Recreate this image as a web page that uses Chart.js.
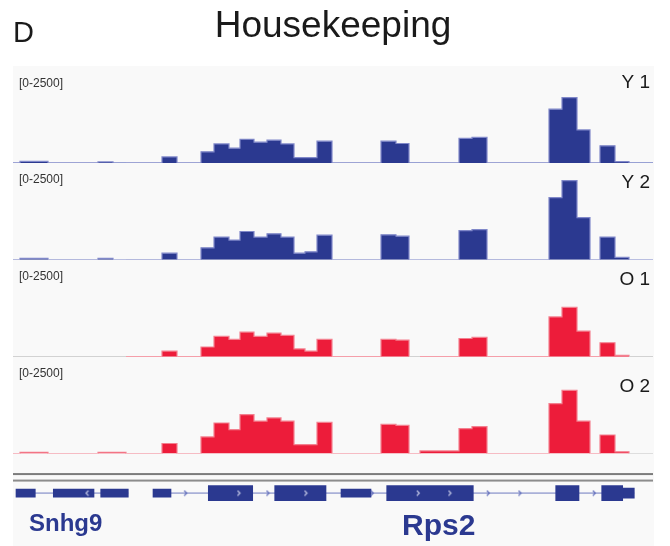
<!DOCTYPE html>
<html>
<head>
<meta charset="utf-8">
<script src="https://cdn.jsdelivr.net/npm/chart.js@4.4.1/dist/chart.umd.min.js"></script>
<style>
  html, body { margin: 0; padding: 0; background: #fff; }
  #wrap { width: 670px; height: 546px; }
</style>
</head>
<body>
<div id="wrap"><canvas id="myChart" width="670" height="546"></canvas></div>
<script>
// bin edges along the locus (relative position), one more than the bins
const binEdges = [0, 7, 35, 85, 100, 113, 149, 164, 188, 201, 216, 227, 241, 254, 268, 281, 292, 304,
                  319, 368, 383, 396, 407, 446, 459, 474, 536, 549, 564, 577, 587, 602, 616, 640];

// coverage per bin (scale 0-2500)
const y1Counts = [0, 40, 0, 25, 0, 0, 155, 0, 285, 490, 380, 610, 535, 585, 490, 135, 135, 560,
                  0, 560, 500, 0, 0, 635, 660, 0, 1385, 1685, 850, 0, 440, 35, 0];
const y2Counts = [0, 35, 0, 35, 0, 0, 170, 0, 310, 585, 510, 730, 585, 670, 585, 170, 205, 635,
                  0, 645, 610, 0, 0, 755, 780, 0, 1605, 2045, 1090, 0, 585, 60, 0];
const o1Counts = [0, 0, 0, 0, 0, 0, 145, 0, 250, 525, 445, 635, 525, 610, 550, 200, 145, 445,
                  0, 445, 430, 0, 0, 470, 500, 0, 1025, 1270, 660, 0, 360, 35, 0];
const o2Counts = [0, 35, 0, 35, 35, 0, 260, 0, 430, 790, 620, 1005, 840, 920, 840, 230, 230, 805,
                  0, 755, 730, 0, 70, 645, 695, 0, 1290, 1630, 840, 0, 480, 45, 0];

const trackNames = ['Y 1', 'Y 2', 'O 1', 'O 2'];
const rangeLabel = '[0-2500]';
const yMax = 2500;

// gene model
const geneNames = ['Snhg9', 'Rps2'];
const geneSpans = [[3, 115.3], [140, 621.3]];
const thinExons = [[3, 22.3], [40.3, 81], [87.7, 115.3], [140, 158], [328, 358]];
const thickExons = [[195.3, 239.7], [261.7, 313], [373.7, 460.3], [542.7, 566], [588.7, 609.7]];
const utrExons = [[609.7, 621.3]];
const intronArrows = [172.7, 255, 359.3, 475.3, 507, 581.3];
const exonArrows = [226, 293, 405.3, 437];
const minusArrows = [74];

const blue = '#2b3990';
const red = '#ed1c3a';
const font = "'Liberation Sans', Arial, Helvetica, sans-serif";
const geneRow = 0.82;

function histPoints(counts) {
  const pts = counts.map((v, i) => ({x: binEdges[i], y: v}));
  pts.push({x: binEdges[binEdges.length - 1], y: 0});
  return pts;
}

function chevron(color, flip) {
  const c = document.createElement('canvas');
  c.width = 5; c.height = 7;
  const g = c.getContext('2d');
  g.strokeStyle = color;
  g.lineWidth = 1.1;
  g.beginPath();
  if (flip) { g.moveTo(4, 1); g.lineTo(1.5, 3.5); g.lineTo(4, 6); }
  else { g.moveTo(1, 1); g.lineTo(3.5, 3.5); g.lineTo(1, 6); }
  g.stroke();
  return c;
}

const tracks = [
  {id: 'y1', counts: y1Counts, fill: blue, edge: '#8088c9', base: '#6f7bc4'},
  {id: 'y2', counts: y2Counts, fill: blue, edge: '#8088c9', base: '#8a92cf'},
  {id: 'o1', counts: o1Counts, fill: red, edge: '#f3808f', base: '#c4c4c4'},
  {id: 'o2', counts: o2Counts, fill: red, edge: '#f3808f', base: '#c4c4c4'}
];

const noPoint = {pointRadius: 0, pointHoverRadius: 0, pointBorderWidth: 0, pointHitRadius: 0};

const datasets = tracks.map(t => ({
  type: 'line',
  label: t.id,
  yAxisID: t.id,
  data: histPoints(t.counts),
  stepped: true,
  fill: 'origin',
  backgroundColor: t.fill,
  borderColor: t.edge,
  borderWidth: 1.2,
  ...noPoint,
  order: 4,
  segment: {
    borderColor: c => (c.p0.parsed.y === 0 && c.p1.parsed.y === 0 ? t.base : t.edge)
  }
}));

const intronLine = [];
geneSpans.forEach((s, i) => {
  if (i > 0) intronLine.push({x: (geneSpans[i - 1][1] + s[0]) / 2, y: null});
  intronLine.push({x: s[0], y: geneRow}, {x: s[1], y: geneRow});
});

const arrowOpts = {type: 'line', showLine: false, yAxisID: 'gene', ...noPoint,
                   pointRadius: 0.5, order: 1};

datasets.push(
  {type: 'line', yAxisID: 'gene', data: intronLine, borderColor: '#6f7bc0', borderWidth: 1,
   ...noPoint, spanGaps: false, order: 3},
  {type: 'bar', indexAxis: 'y', yAxisID: 'gene', grouped: false, barThickness: 8,
   backgroundColor: blue, data: thinExons.map(e => ({x: e, y: geneRow})), order: 2},
  {type: 'bar', indexAxis: 'y', yAxisID: 'gene', grouped: false, barThickness: 15,
   backgroundColor: blue, data: thickExons.map(e => ({x: e, y: geneRow})), order: 2},
  {type: 'bar', indexAxis: 'y', yAxisID: 'gene', grouped: false, barThickness: 10,
   backgroundColor: blue, data: utrExons.map(e => ({x: e, y: geneRow})), order: 2},
  {...arrowOpts, data: intronArrows.map(x => ({x, y: geneRow})), pointStyle: chevron('#5b68b9', false)},
  {...arrowOpts, data: exonArrows.map(x => ({x, y: geneRow})), pointStyle: chevron('#c9cde9', false)},
  {...arrowOpts, data: minusArrows.map(x => ({x, y: geneRow})), pointStyle: chevron('#c9cde9', true)}
);

function stackAxis(weight, stackWeight, max) {
  return {type: 'linear', axis: 'y', position: 'left', stack: 'igv', stackWeight, weight,
          min: 0, max, offset: false, display: false};
}

const decor = {
  id: 'decor',
  beforeDraw(chart) {
    const {ctx, chartArea: a} = chart;
    ctx.save();
    ctx.fillStyle = '#fff';
    ctx.fillRect(0, 0, chart.width, chart.height);
    ctx.fillStyle = '#f9f9f9';
    ctx.fillRect(a.left, a.top, a.right - a.left + 1, chart.height - a.top);
    ctx.restore();
  },
  afterDraw(chart) {
    const {ctx, chartArea: a} = chart;
    ctx.save();
    ctx.fillStyle = '#1a1a1a';
    ctx.textBaseline = 'alphabetic';
    ctx.font = '37px ' + font;
    ctx.textAlign = 'center';
    ctx.fillText('Housekeeping', 333, 37);
    ctx.font = '29px ' + font;
    ctx.textAlign = 'left';
    ctx.fillText('D', 13, 42);

    const nameDy = [22, 25, 25, 35];
    tracks.forEach((t, i) => {
      const s = chart.scales[t.id];
      ctx.fillStyle = '#333';
      ctx.font = '12px ' + font;
      ctx.textAlign = 'left';
      ctx.fillText(rangeLabel, 19, s.top + 20.5);
      ctx.fillStyle = '#1a1a1a';
      ctx.font = '19px ' + font;
      ctx.textAlign = 'right';
      ctx.fillText(trackNames[i], 650, s.top + nameDy[i]);
    });

    const sep = chart.scales.sep;
    ctx.fillStyle = '#7c7c7c';
    ctx.fillRect(a.left, sep.bottom - 8.5, a.right - a.left, 2);
    ctx.fillStyle = '#8c8c8c';
    ctx.fillRect(a.left, sep.bottom - 2, a.right - a.left, 2);

    ctx.fillStyle = blue;
    ctx.textAlign = 'left';
    ctx.font = 'bold 24px ' + font;
    ctx.fillText(geneNames[0], 29, 531);
    ctx.font = 'bold 30px ' + font;
    ctx.fillText(geneNames[1], 402, 534.5);
    ctx.restore();
  }
};

new Chart(document.getElementById('myChart'), {
  type: 'line',
  data: {datasets},
  options: {
    responsive: false,
    animation: false,
    events: [],
    layout: {padding: {top: 66, left: 13, right: 17, bottom: 0}},
    plugins: {legend: {display: false}, tooltip: {enabled: false}, title: {display: false}},
    scales: {
      x: {type: 'linear', min: 0, max: 640, offset: false, display: false},
      y1: stackAxis(6, 97, yMax),
      y2: stackAxis(5, 97, yMax),
      o1: stackAxis(4, 97, yMax),
      o2: stackAxis(3, 97, yMax),
      sep: stackAxis(2, 28, 1),
      gene: stackAxis(1, 64, 1)
    }
  },
  plugins: [decor]
});
</script>
</body>
</html>
